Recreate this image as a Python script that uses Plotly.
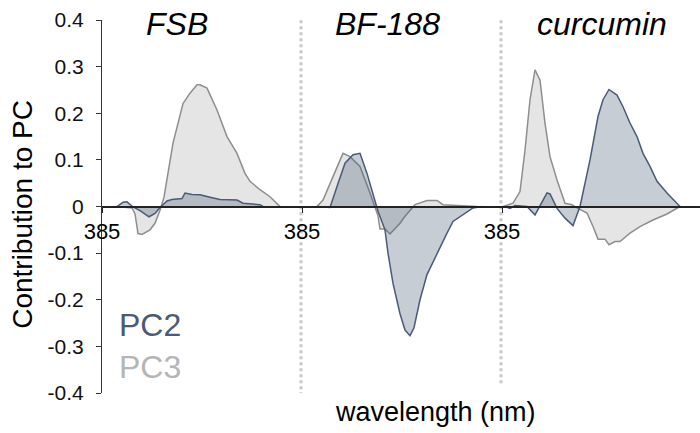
import plotly.graph_objects as go

# ---------------- data ----------------
panels = ["FSB", "BF-188", "curcumin"]
panel_start_nm = 385
panel_span_nm = 200

fsb_pc2_wl = [400, 406, 410, 416, 423, 432, 438, 443, 450, 455, 465, 468, 475, 483, 493, 503, 520, 526, 543, 546]
fsb_pc2 = [0, 0.009, 0.010, -0.001, -0.009, -0.022, -0.015, -0.002, 0.012, 0.015, 0.017, 0.029, 0.026, 0.025, 0.020, 0.015, 0.014, 0.007, 0.004, 0]
fsb_pc3_wl = [400, 415, 418, 421, 425, 433, 438, 443, 447, 456, 466, 473, 480, 483, 490, 500, 510, 520, 528, 533, 543, 553, 561, 563]
fsb_pc3 = [0, -0.003, -0.016, -0.058, -0.060, -0.050, -0.036, -0.008, 0.020, 0.136, 0.221, 0.243, 0.261, 0.261, 0.254, 0.207, 0.150, 0.114, 0.071, 0.054, 0.036, 0.021, 0.004, 0]

bf_pc2_wl = [400, 413, 420, 428, 436, 443, 450, 456, 461, 468, 471, 476, 483, 488, 493, 497, 503, 510, 520, 530, 536, 546, 556, 565]
bf_pc2 = [0, -0.002, 0.043, 0.093, 0.111, 0.114, 0.071, 0.029, -0.010, -0.050, -0.100, -0.165, -0.230, -0.265, -0.277, -0.260, -0.200, -0.146, -0.100, -0.057, -0.032, -0.018, -0.003, 0]
bf_pc3_wl = [400, 406, 416, 426, 433, 443, 453, 458, 461, 463, 468, 473, 483, 488, 498, 510, 520, 526, 550, 560]
bf_pc3 = [0, 0.014, 0.064, 0.114, 0.107, 0.086, 0.029, 0, -0.020, -0.048, -0.048, -0.059, -0.036, -0.021, 0.004, 0.013, 0.013, 0.004, 0.002, 0]

cur_pc2_wl = [388, 393, 398, 410, 418, 430, 433, 440, 448, 456, 463, 466, 473, 481, 486, 492, 500, 506, 513, 520, 526, 533, 540, 550, 563]
cur_pc2 = [0, -0.004, 0.002, 0, -0.018, 0.029, 0.027, -0.004, -0.025, -0.041, 0, 0.029, 0.100, 0.193, 0.229, 0.251, 0.239, 0.214, 0.179, 0.150, 0.114, 0.086, 0.054, 0.029, 0]
cur_pc3_wl = [386, 391, 396, 403, 408, 413, 418, 423, 428, 433, 440, 448, 455, 461, 470, 476, 481, 488, 492, 498, 503, 513, 523, 536, 550, 563]
cur_pc3 = [0, 0.004, 0.007, 0.032, 0.121, 0.229, 0.293, 0.271, 0.179, 0.107, 0.057, 0.007, 0.004, -0.004, -0.014, -0.043, -0.070, -0.070, -0.082, -0.075, -0.075, -0.057, -0.043, -0.029, -0.016, 0]

y_tickvals = [0.4, 0.3, 0.2, 0.1, 0, -0.1, -0.2, -0.3, -0.4]
y_ticktext = ["0.4", "0.3", "0.2", "0.1", "0", "-0.1", "-0.2", "-0.3", "-0.4"]
x_ticktext = ["385", "385", "385"]

pc2_series = [(fsb_pc2_wl, fsb_pc2), (bf_pc2_wl, bf_pc2), (cur_pc2_wl, cur_pc2)]
pc3_series = [(fsb_pc3_wl, fsb_pc3), (bf_pc3_wl, bf_pc3), (cur_pc3_wl, cur_pc3)]

# ---------------- styles ----------------
FONT = "Helvetica, Arial, Liberation Sans, sans-serif"
PC2_LINE = "#4a5a77"
PC2_FILL = "rgba(71,88,117,0.30)"
PC3_LINE = "#8e8e8e"
PC3_FILL = "rgba(150,150,150,0.25)"

def pos(wls, i):
    return [i * panel_span_nm + (w - panel_start_nm) for w in wls]

fig = go.Figure()
for i, (wl, v) in enumerate(pc3_series):
    fig.add_trace(go.Scatter(x=pos(wl, i), y=v, mode="lines", fill="tozeroy",
                             line=dict(color=PC3_LINE, width=1.5), fillcolor=PC3_FILL,
                             showlegend=False, hoverinfo="skip"))
for i, (wl, v) in enumerate(pc2_series):
    fig.add_trace(go.Scatter(x=pos(wl, i), y=v, mode="lines", fill="tozeroy",
                             line=dict(color=PC2_LINE, width=1.5), fillcolor=PC2_FILL,
                             showlegend=False, hoverinfo="skip"))

# dotted panel separators
for i, ybot in [(1, -0.415), (2, -0.38)]:
    fig.add_shape(type="line", xref="x", yref="y",
                  x0=i * panel_span_nm - 1, x1=i * panel_span_nm - 1, y0=0.425, y1=ybot,
                  line=dict(color="#c8c8c8", width=3, dash="dot"), layer="below")

# plot area in page pixels: x 102..700, y 20..393.3
PX_L, PX_W, PX_T, PX_H = 102, 598, 20, 373.3
W, H = 700, 433

def px_x(px):
    return (px - PX_L) / PX_W

def px_y(py):
    return (PX_T + PX_H - py) / PX_H

# panel titles
for i, name in enumerate(panels):
    cx = [177, 387.5, 601.5][i]
    fig.add_annotation(x=px_x(cx), xref="paper", y=px_y(24), yref="paper", text=f"<i>{name}</i>",
                       showarrow=False, xanchor="center", yanchor="middle",
                       font=dict(family=FONT, size=32, color="#000000"))

# legend-like labels
fig.add_annotation(x=px_x(117), xref="paper", y=px_y(325), yref="paper", text="PC2",
                   showarrow=False, xanchor="left", yanchor="middle",
                   font=dict(family=FONT, size=32, color=PC2_LINE))
fig.add_annotation(x=px_x(117), xref="paper", y=px_y(367), yref="paper", text="PC3",
                   showarrow=False, xanchor="left", yanchor="middle",
                   font=dict(family=FONT, size=32, color="#b5b5b5"))

# axis titles
fig.add_annotation(x=px_x(23), xref="paper", y=px_y(215), yref="paper",
                   text="Contribution to PC", textangle=-90, showarrow=False,
                   xanchor="center", yanchor="middle",
                   font=dict(family=FONT, size=28, color="#000000"))
fig.add_annotation(x=px_x(435.5), xref="paper", y=px_y(412), yref="paper",
                   text="wavelength (nm)", showarrow=False,
                   xanchor="center", yanchor="middle",
                   font=dict(family=FONT, size=27, color="#000000"))

fig.update_layout(
    width=W, height=H,
    margin=dict(l=PX_L, r=W - PX_L - PX_W, t=PX_T, b=H - PX_T - PX_H),
    paper_bgcolor="white", plot_bgcolor="white",
    hovermode=False,
    xaxis=dict(range=[0, 598], anchor="free", position=0.5, showgrid=False, zeroline=False,
               showline=True, linecolor="#222222", linewidth=2,
               ticks="outside", ticklen=5, tickcolor="#222222",
               tickvals=[0, 200, 400], ticktext=x_ticktext,
               tickfont=dict(family=FONT, size=22, color="#000000")),
    yaxis=dict(range=[-0.4, 0.4], showgrid=False, zeroline=False,
               showline=True, linecolor="#333333", linewidth=1.2,
               ticks="outside", ticklen=5, tickcolor="#333333",
               ticklabelstandoff=8,
               tickvals=y_tickvals, ticktext=y_ticktext,
               tickfont=dict(family=FONT, size=21, color="#111111")),
)

fig.write_html("out.html", config={"displayModeBar": False},
               post_script="document.body.style.margin='0';document.body.style.overflow='hidden';")
